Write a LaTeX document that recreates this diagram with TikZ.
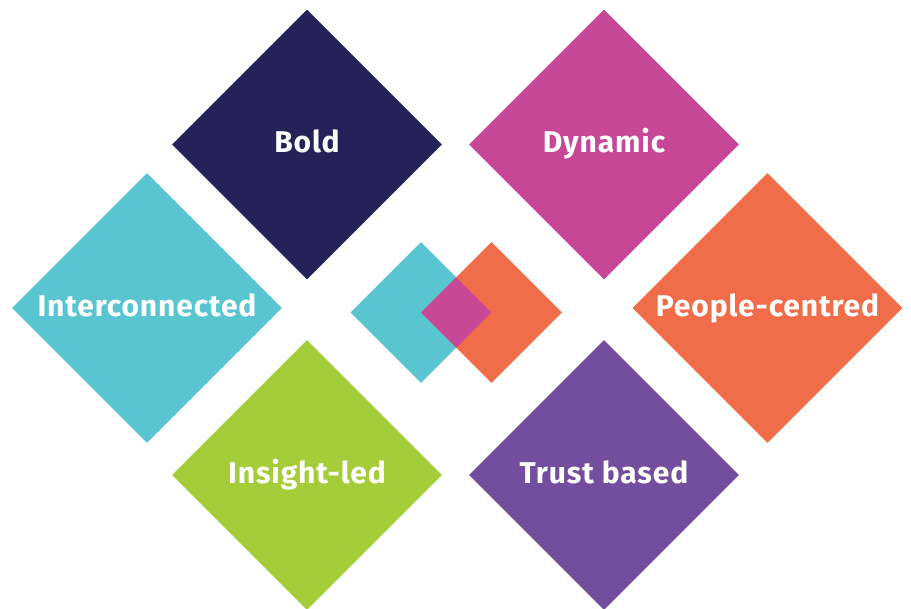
\documentclass[tikz,border=0pt]{standalone}
\usepackage{fontspec}
\setmainfont{Fira Sans}
\newfontfamily\tilefont[LetterSpace=3]{Fira Sans}
\usepackage{tikz}
\usetikzlibrary{positioning,shapes.geometric}

\definecolor{navy}{RGB}{37,33,89}
\definecolor{berry}{RGB}{200,72,152}
\definecolor{teal}{RGB}{89,197,209}
\definecolor{coral}{RGB}{241,109,74}
\definecolor{lime}{RGB}{165,205,57}
\definecolor{plum}{RGB}{116,78,158}

\begin{document}
\begin{tikzpicture}[
  x=1pt, y=-1pt,
  tile/.style={diamond, aspect=1, inner sep=0pt, minimum size=270pt,
    text=white, text height=21pt, text depth=4pt,
    font=\tilefont\bfseries\fontsize{30}{30}\selectfont},
  chip/.style={diamond, aspect=1, inner sep=0pt, minimum size=141pt}
]
\useasboundingbox (0,0) rectangle (911,609);

% outer ring of values
\node[tile, fill=navy]  (bold)    at (307,144.5) {Bold};
\node[tile, fill=berry] (dynamic) at (604,144.5) {Dynamic};
\node[tile, fill=teal]  (inter)   at (147,308)   {Interconnected};
\node[tile, fill=coral] (people)  at (767.5,308) {People-centred};
\node[tile, fill=lime]  (insight) at (307,475)   {Insight-led};
\node[tile, fill=plum]  (trust)   at (604,475)   {Trust based};

% centre mark
\node[chip, fill=teal]  (left)  at (421,312.5) {};
\node[chip, fill=coral] (right) at (491.5,312.5) {};
\node[chip, fill=berry, minimum size=70.5pt] (mid) at (456.25,312.5) {};
\end{tikzpicture}
\end{document}
